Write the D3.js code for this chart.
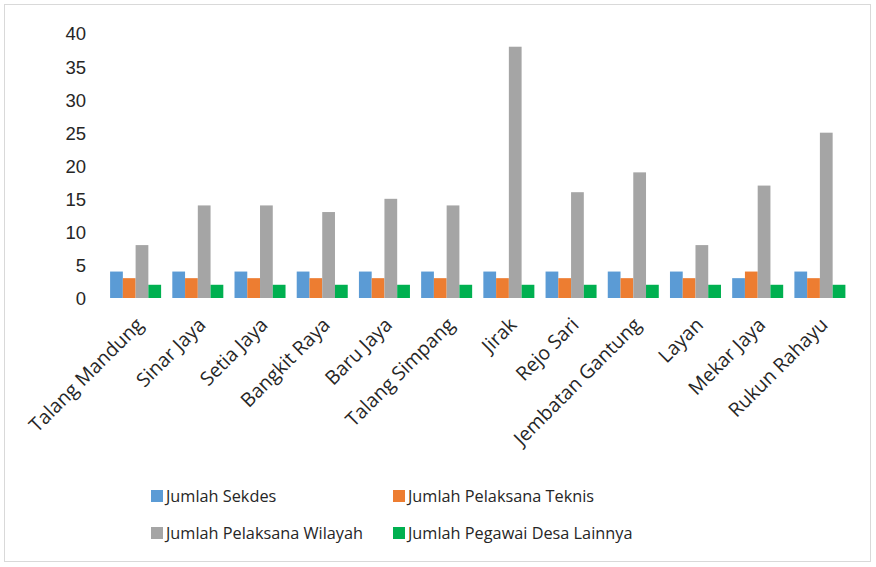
<!DOCTYPE html>
<html>
<head>
  <meta charset="UTF-8">
  <title></title>
  <style>
    body{ margin:0; background:#fff; font-family:'Open Sans', sans-serif; }
    .tick text{ font-size:18.5px; fill:#262626; }
    .xlabel{ font-size:19.5px; fill:#262626; }
    .legend text{ font-size:16.3px; fill:#262626; }
  </style>
</head>
<body>
  <script src="https://d3js.org/d3.v7.min.js"></script>
  <script>
    var desa = ["Talang Mandung", "Sinar Jaya", "Setia Jaya", "Bangkit Raya", "Baru Jaya",
                "Talang Simpang", "Jirak", "Rejo Sari", "Jembatan Gantung", "Layan",
                "Mekar Jaya", "Rukun Rahayu"];
    var seriesNames = ["Jumlah Sekdes", "Jumlah Pelaksana Teknis",
                       "Jumlah Pelaksana Wilayah", "Jumlah Pegawai Desa Lainnya"];
    var sekdes   = [4, 4, 4, 4, 4, 4, 4, 4, 4, 4, 3, 4];
    var teknis   = [3, 3, 3, 3, 3, 3, 3, 3, 3, 3, 4, 3];
    var wilayah  = [8, 14, 14, 13, 15, 14, 38, 16, 19, 8, 17, 25];
    var lainnya  = [2, 2, 2, 2, 2, 2, 2, 2, 2, 2, 2, 2];
    var yTicks = [0, 5, 10, 15, 20, 25, 30, 35, 40];
    var colors = ["#5b9bd5", "#ed7d31", "#a5a5a5", "#00b050"];

    var allSeries = [sekdes, teknis, wilayah, lainnya];

    var width = 876, height = 567;
    var svg = d3.select("body").append("svg")
        .attr("width", width)
        .attr("height", height);

    svg.append("rect")
        .attr("x", 4.5).attr("y", 4.5)
        .attr("width", 866).attr("height", 557)
        .attr("fill", "none")
        .attr("stroke", "#d9d9d9");

    var x0 = d3.scaleBand()
        .domain(desa)
        .range([104.5, 851])
        .paddingInner(0.18)
        .paddingOuter(0.09);

    var x1 = d3.scaleBand()
        .domain(d3.range(4))
        .range([0, x0.bandwidth()]);

    var y = d3.scaleLinear().domain([0, 40]).range([298, 33.5]);

    // y axis labels only, no line
    var yAxis = svg.append("g")
        .attr("transform", "translate(86,0)")
        .call(d3.axisLeft(y).tickValues(yTicks).tickSize(0).tickPadding(0));
    yAxis.select(".domain").remove();
    yAxis.selectAll("text").attr("font-family", null).attr("font-size", null)
        .attr("dy", "0.35em");

    var groups = svg.append("g").selectAll("g")
        .data(desa)
        .enter().append("g")
          .attr("transform", function(d) { return "translate(" + x0(d) + ",0)"; });

    groups.selectAll("rect")
        .data(function(d, i) { return allSeries.map(function(s, k) { return {k: k, v: s[i]}; }); })
        .enter().append("rect")
          .attr("x", function(d) { return x1(d.k); })
          .attr("width", x1.bandwidth())
          .attr("y", function(d) { return y(d.v); })
          .attr("height", function(d) { return y(0) - y(d.v); })
          .attr("fill", function(d) { return colors[d.k]; });

    svg.append("g").selectAll("text")
        .data(desa)
        .enter().append("text")
          .attr("class", "xlabel")
          .attr("text-anchor", "end")
          .attr("transform", function(d) {
            return "translate(" + (x0(d) + x0.bandwidth() / 2 + 9) + ",326) rotate(-45)";
          })
          .text(function(d) { return d; });

    var legendPos = [[151, 490], [393, 490], [151, 527], [393, 527]];
    var legend = svg.append("g").attr("class", "legend")
        .selectAll("g")
        .data(seriesNames)
        .enter().append("g")
          .attr("transform", function(d, i) { return "translate(" + legendPos[i][0] + "," + legendPos[i][1] + ")"; });
    legend.append("rect")
        .attr("width", 12).attr("height", 12)
        .attr("fill", function(d, i) { return colors[i]; });
    legend.append("text")
        .attr("x", 15).attr("y", 6).attr("dy", "0.35em")
        .text(function(d) { return d; });
  </script>
</body>
</html>
